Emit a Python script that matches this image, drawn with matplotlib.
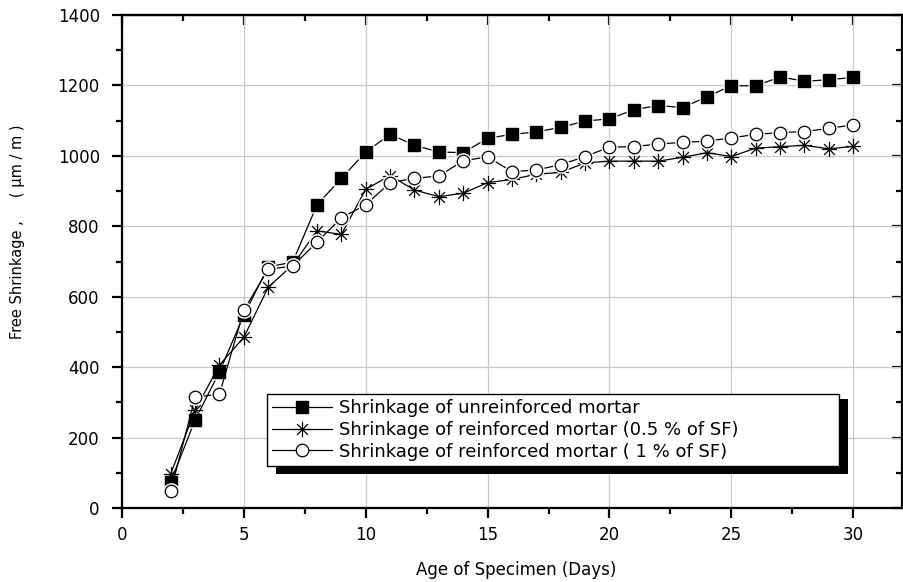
import numpy as np
import matplotlib
matplotlib.use("Agg")
import matplotlib.pyplot as plt
from matplotlib.path import Path
from matplotlib.patches import Rectangle
from matplotlib.ticker import MultipleLocator

plt.rcParams['font.family'] = ['DejaVu Sans']

days = list(range(2, 31))
unreinforced = [75, 250, 387, 548, 685, 698, 861, 936, 1011, 1061, 1030, 1011, 1009, 1050,
                1061, 1068, 1081, 1099, 1105, 1131, 1143, 1137, 1168, 1199, 1199, 1224, 1212, 1216, 1223]
sf_05 = [97, 278, 406, 485, 627, 690, 787, 777, 905, 944, 903, 884, 894, 924,
         933, 948, 953, 980, 985, 985, 985, 996, 1009, 998, 1022, 1026, 1030, 1020, 1027]
sf_1 = [49, 314, 324, 562, 678, 687, 755, 824, 861, 924, 936, 943, 986, 997,
        955, 960, 975, 998, 1025, 1026, 1034, 1038, 1042, 1051, 1061, 1066, 1069, 1078, 1088]
labels = ["Shrinkage of unreinforced mortar",
          "Shrinkage of reinforced mortar (0.5 % of SF)",
          "Shrinkage of reinforced mortar ( 1 % of SF)"]
x_ticks = [0, 5, 10, 15, 20, 25, 30]
y_ticks = [0, 200, 400, 600, 800, 1000, 1200, 1400]

W, H = 904, 582
fig = plt.figure(figsize=(W / 100, H / 100), dpi=100)
L, R, T, B = 122, 902, 15, 508
ax = fig.add_axes([L / W, 1 - B / H, (R - L) / W, (B - T) / H])

# asterisk marker: vertical, horizontal and two diagonals
d = 0.7071
verts = [(0, -1), (0, 1), (-1, 0), (1, 0), (-d, -d), (d, d), (-d, d), (d, -d)]
codes = [Path.MOVETO, Path.LINETO] * 4
star = Path(verts, codes)

series = [
    (unreinforced, dict(marker='s', ms=8.5, mfc='black', mec='black'), 's', 12),
    (sf_05, dict(marker=star, ms=11, mew=0.9, mec='black'), None, 0),
    (sf_1, dict(marker='o', ms=9, mfc='white', mec='black', mew=0.9), 'o', 12),
]
for i, (vals, mk, halo, hs) in enumerate(series):
    ax.plot(days, vals, color='black', lw=0.9, label=labels[i], zorder=4 + i, **mk)
    if halo is not None:
        ax.plot(days, vals, ls='none', marker=halo, ms=hs, mfc='white', mec='none',
                zorder=4 + i + 0.5)
        ax.plot(days, vals, ls='none', zorder=4 + i + 0.6, **mk)

ax.set_xlim(0, 32)
ax.set_ylim(0, 1400)
ax.set_xticks(x_ticks)
ax.set_yticks(y_ticks)
ax.xaxis.set_minor_locator(MultipleLocator(2.5))
ax.yaxis.set_minor_locator(MultipleLocator(100))

ax.grid(True, which='major', color='#c8c8c8', lw=0.9, zorder=0)
ax.set_axisbelow(True)

for sp in ax.spines.values():
    sp.set_linewidth(1.6)

ax.tick_params(axis='both', which='major', direction='out', length=7, width=1.6,
               labelsize=12, colors='black')
ax.tick_params(axis='both', which='minor', direction='out', length=4, width=1.6)
ax.tick_params(axis='x', which='major', pad=6)
ax.tick_params(axis='y', which='major', pad=9)

# inward ticks on top and right
axt = ax.secondary_xaxis('top')
axt.set_xticks(x_ticks)
axt.xaxis.set_minor_locator(MultipleLocator(2.5))
axt.tick_params(which='major', direction='in', length=7, width=1.6, labeltop=False)
axt.tick_params(which='minor', direction='in', length=4, width=1.6)
axt.spines['top'].set_linewidth(1.6)
axr = ax.secondary_yaxis('right')
axr.set_yticks(y_ticks)
axr.yaxis.set_minor_locator(MultipleLocator(100))
axr.tick_params(which='major', direction='in', length=7, width=1.6, labelright=False)
axr.tick_params(which='minor', direction='in', length=4, width=1.6)

# legend with solid black shadow
aw, ah = R - L, B - T
lx0, lx1, ly0, ly1 = 267, 839, 391, 466
sh = Rectangle(((lx0 + 9 - L) / aw, (B - (ly1 + 8)) / ah), (lx1 - lx0) / aw, (ly1 - ly0) / ah,
               transform=ax.transAxes, facecolor='black', edgecolor='none', zorder=8)
ax.add_patch(sh)
leg = ax.legend(loc='lower left',
                bbox_to_anchor=((lx0 - L) / aw, (B - ly1) / ah, (lx1 - lx0) / aw, (ly1 - ly0) / ah),
                mode='expand', borderaxespad=0, fancybox=False, framealpha=1,
                edgecolor='black', fontsize=13, handlelength=3.3, handletextpad=0.4,
                labelspacing=0.2, borderpad=0.3)
leg.get_frame().set_linewidth(1.0)
leg.set_zorder(10)

fig.text(516 / W, 1 - 570 / H, "Age of Specimen (Days)", ha='center', va='center', fontsize=12)
fig.text(18 / W, 1 - 232 / H, "Free Shrinkage ,     ( μm / m )", ha='center', va='center',
         rotation=90, fontsize=10.5)

fig.savefig("out.png", dpi=100)
